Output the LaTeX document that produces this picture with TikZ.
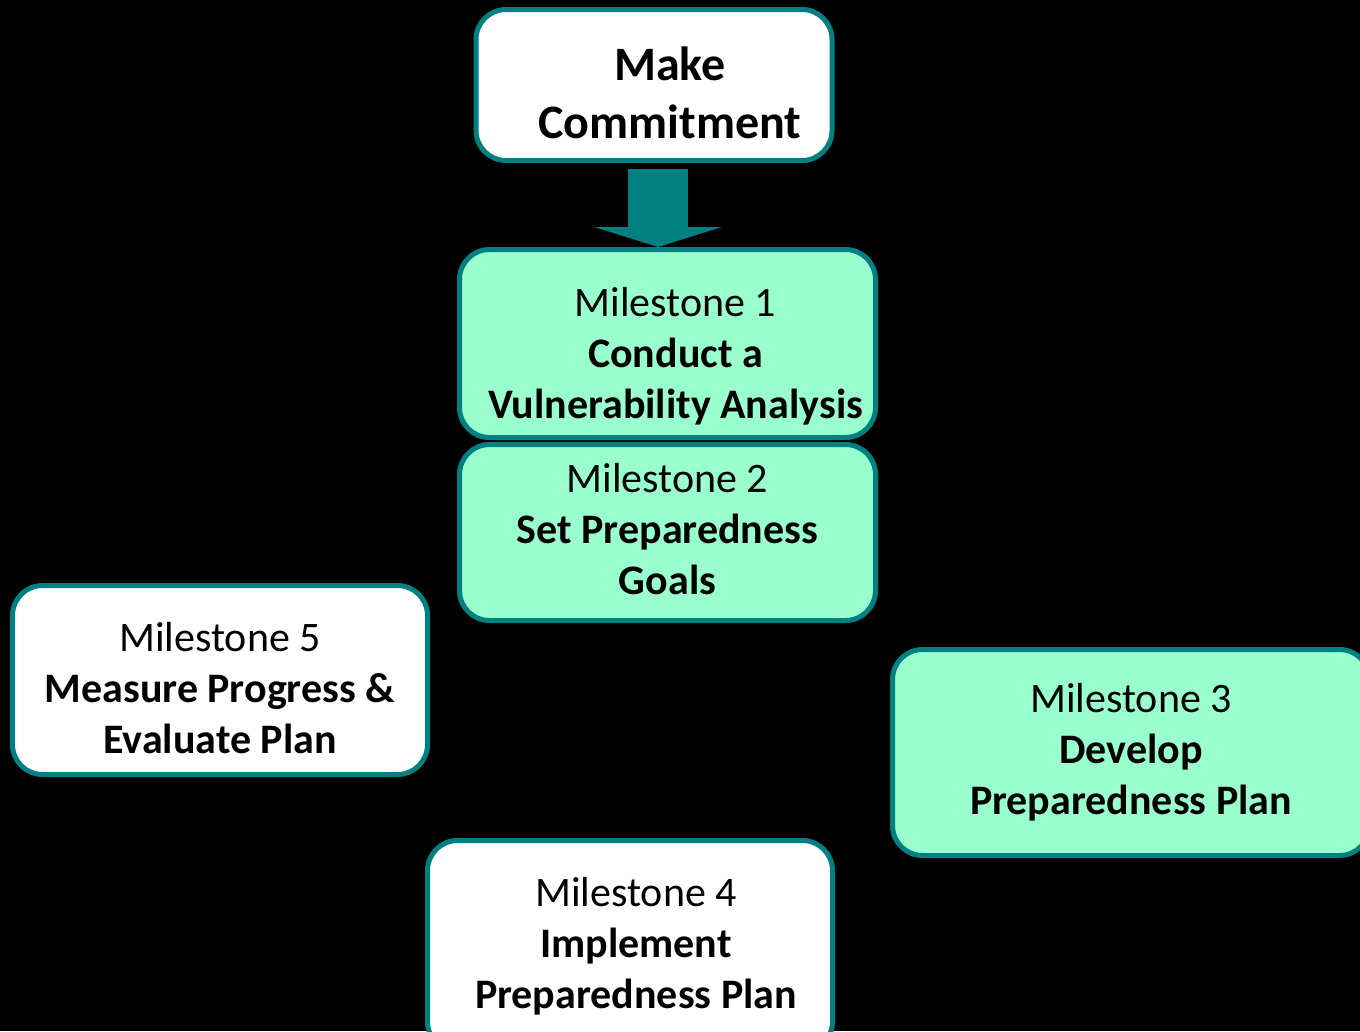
\documentclass[tikz,border=0pt]{standalone}
\usepackage{fontspec}
\setmainfont{Carlito}
\usetikzlibrary{positioning,arrows.meta}
\definecolor{boxteal}{RGB}{0,128,128}
\definecolor{mint}{RGB}{153,255,204}
% invisible struts to nudge the text inside a box
\newcommand{\topgap}[1]{\rule{0pt}{#1}}
\newcommand{\botgap}[1]{\rule[-#1]{0pt}{#1}}

\begin{document}
\begin{tikzpicture}[x=1pt,y=-1pt,
    box/.style={draw=boxteal,line width=5pt,rounded corners=30pt,align=center,inner sep=0pt,
        font=\fontsize{42}{51}\selectfont},
    whitebox/.style={box,fill=white},
    mintbox/.style={box,fill=mint},
    bigarrow/.style={draw=boxteal,line width=60pt,-{Triangle[width=127pt,length=20pt]},shorten <=6pt}]
    \fill[black] (0,0) rectangle (1360,1031);
    \useasboundingbox (0,0) rectangle (1360,1031);
    \clip (0,0) rectangle (1360,1031);

    \node[whitebox,minimum width=356pt,minimum height=151pt,font=\fontsize{48}{58}\selectfont\bfseries] (commit) at (654,85) {\topgap{50pt}\hspace*{32pt}Make\\\hspace*{32pt}Commitment};
    \node[mintbox,minimum width=416pt,minimum height=188pt,below=84pt of commit,xshift=13.5pt] (m1) {\topgap{54pt}\hspace*{16pt}Milestone 1\\\hspace*{16pt}\textbf{Conduct a}\\\hspace*{16pt}\textbf{Vulnerability Analysis}};
    \node[mintbox,minimum width=416pt,minimum height=176pt,below=2pt of m1] (m2) {Milestone 2\\\textbf{Set Preparedness}\\\textbf{Goals}\botgap{8pt}};
    \node[mintbox,minimum width=477pt,minimum height=206pt] (m3) at (1131,752.5) {Milestone 3\\\textbf{Develop}\\\textbf{Preparedness Plan}};
    \node[whitebox,minimum width=405pt,minimum height=211pt] (m4) at (630,946) {\hspace*{12pt}Milestone 4\\\hspace*{12pt}\textbf{Implement}\\\hspace*{12pt}\textbf{Preparedness Plan}};
    \node[whitebox,minimum width=415pt,minimum height=189pt] (m5) at (220,680) {\topgap{46pt}Milestone 5\\\textbf{Measure Progress \&}\\\textbf{Evaluate Plan}};

    \draw[bigarrow] ([xshift=4pt]commit.south) -- ([xshift=4pt]commit.south |- m1.north);
\end{tikzpicture}
\end{document}
